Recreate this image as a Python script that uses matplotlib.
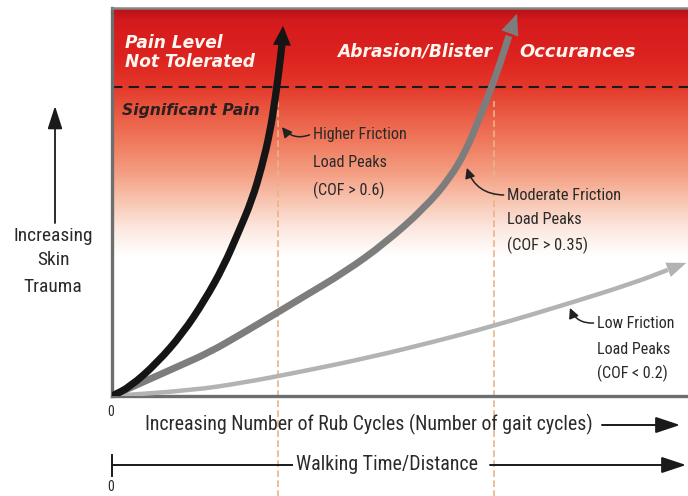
import matplotlib
matplotlib.use('Agg')
import matplotlib.pyplot as plt
import numpy as np
from matplotlib import font_manager
from matplotlib.colors import LinearSegmentedColormap
from matplotlib.path import Path
from matplotlib.patches import PathPatch, FancyArrowPatch
from matplotlib.lines import Line2D

# curves (x: rub cycles 0-100, y: skin trauma 0-100)
high_x = [0, 3.1, 7.8, 12.3, 16.1, 19.3, 21.9, 24.3, 26.0, 27.4, 28.3, 29.0, 29.5, 29.7]
high_y = [0, 2.3, 8.5, 16.2, 24.7, 33.2, 42.0, 50.5, 59.0, 67.8, 76.3, 84.0, 90.5, 95.4]
mod_x = [0, 5.4, 11.3, 17.0, 22.7, 28.6, 32.6, 40.5, 47.4, 54.3, 58.7, 61.5, 63.5, 65.6, 67.4, 68.9, 70.3]
mod_y = [0, 3.6, 7.5, 11.3, 16.2, 21.4, 25.0, 32.0, 39.4, 48.5, 56.2, 63.4, 70.6, 78.4, 85.8, 92.8, 98.5]
low_x = [0, 14.1, 22.7, 32.6, 44.3, 55.7, 66.1, 79.0, 90.5, 96.5, 99.7]
low_y = [0, 1.5, 3.4, 6.2, 9.8, 13.9, 18.0, 23.7, 29.1, 32.5, 34.3]

pain_threshold = 79.6
guide_x = [28.8, 66.3]

high_label = ['Higher Friction', 'Load Peaks', '(COF > 0.6)']
mod_label = ['Moderate Friction', 'Load Peaks', '(COF > 0.35)']
low_label = ['Low Friction', 'Load Peaks', '(COF < 0.2)']
y_label = ['Increasing', 'Skin', 'Trauma']
x_label = 'Increasing Number of Rub Cycles (Number of gait cycles)'
x2_label = 'Walking Time/Distance'

W, H = 688, 496


def fpx(x, y):
    # figure pixel (origin top-left) -> figure fraction
    return x / W, 1 - y / H


available = {f.name for f in font_manager.fontManager.ttflist}
cond = next((n for n in ('Liberation Sans Narrow', 'Roboto Condensed', 'Open Sans Condensed',
                         'DejaVu Sans Condensed') if n in available), 'DejaVu Sans')
COND = dict(family=cond, fontstretch='condensed', color='#2a2a2a')
BOLD = dict(family='DejaVu Sans', fontweight='bold', fontstyle='italic')

fig = plt.figure(figsize=(W / 100, H / 100), dpi=100)
ax = fig.add_axes([112 / W, 100 / H, 576 / W, 388 / H])
ax.set_xlim(0, 100)
ax.set_ylim(0, 100)
ax.set_xticks([])
ax.set_yticks([])
for side in ('left', 'bottom'):
    ax.spines[side].set_linewidth(2.4)
    ax.spines[side].set_color('#6e6e6e')
ax.spines['top'].set_linewidth(1.8)
ax.spines['top'].set_color('#858585')
ax.spines['right'].set_visible(False)

# red -> white background
stops = [(0.0, '#ffffff'), (0.36, '#ffffff'), (0.43, '#fce8e0'), (0.505, '#f8c4b0'),
         (0.58, '#f49c80'), (0.66, '#ef785c'), (0.74, '#e95640'), (0.80, '#e3382a'),
         (0.87, '#de2420'), (0.97, '#d41a1c'), (1.0, '#b8121a')]
cmap = LinearSegmentedColormap.from_list('trauma', stops)
grad = np.linspace(0, 1, 400).reshape(-1, 1)
ax.imshow(grad, cmap=cmap, extent=[0, 100, 0, 100], origin='lower', aspect='auto', zorder=0)

ax.axhline(pain_threshold, color='#1a1a1a', lw=1.5, ls=(0, (5, 3)), zorder=2)
for gx in guide_x:
    ax.plot([gx, gx], [-26, 76], color='#e9b488', lw=1.2, ls=(0, (4, 2)),
            clip_on=False, zorder=1)


def curve(xs, ys, color, lw, hl, hw):
    # smooth quadratic path through the read points, arrow head on the last one
    pts = np.column_stack([xs[:-1], ys[:-1]])
    mids = (pts[1:] + pts[:-1]) / 2
    verts, codes = [pts[0], mids[0]], [Path.MOVETO, Path.LINETO]
    for i in range(1, len(pts) - 1):
        verts += [pts[i], mids[i]]
        codes += [Path.CURVE3, Path.CURVE3]
    verts.append(pts[-1])
    codes.append(Path.LINETO)
    ax.add_patch(PathPatch(Path(verts, codes), fill=False, edgecolor=color, lw=lw,
                           capstyle='butt', joinstyle='round', zorder=4))
    ax.annotate('', xy=(xs[-1], ys[-1]), xytext=(xs[-2], ys[-2]), zorder=4,
                arrowprops=dict(arrowstyle=f'-|>,head_length={hl},head_width={hw}',
                                color=color, lw=0, shrinkA=0, shrinkB=0, mutation_scale=10))


curve(low_x, low_y, '#b3b3b3', 3.2, 1.4, 0.55)
curve(mod_x, mod_y, '#7d7d7d', 5, 1.5, 0.65)
curve(high_x, high_y, '#151515', 5.2, 1.4, 0.65)

renderer = fig.canvas.get_renderer()


def fit(texts, target):
    widest = max(t.get_window_extent(renderer).width for t in texts)
    for t in texts:
        t.set_fontsize(t.get_fontsize() * target / widest)


# zone labels
white = '#fff6f0'
fit([ax.text(2.3, 91.0, 'Pain Level', color=white, fontsize=12, va='center', **BOLD),
     ax.text(2.3, 86.1, 'Not Tolerated', color=white, fontsize=12, va='center', **BOLD)], 130)
fit([ax.text(39.1, 88.7, 'Abrasion/Blister', color=white, fontsize=12, va='center', **BOLD)], 155)
fit([ax.text(70.8, 88.7, 'Occurances', color=white, fontsize=12, va='center', **BOLD)], 116)
fit([ax.text(1.7, 73.7, 'Significant Pain', color='#2b1f1f', fontsize=12, va='center', **BOLD)], 138)


def callout(lines, x, ys, tip, target):
    ts = [ax.text(x, y, s, fontsize=14, va='center', **COND) for s, y in zip(lines, ys)]
    fit(ts, target)
    ax.annotate('', xy=tip, xytext=(x - 0.6, ys[0]),
                arrowprops=dict(arrowstyle='-|>,head_length=0.6,head_width=0.3', color='#222222',
                                lw=1.1, shrinkA=0, shrinkB=0, mutation_scale=10,
                                connectionstyle='arc3,rad=-0.35'))


callout(high_label, 34.9, [67.3, 60.3, 53.1], (29.5, 69.3), 94)
callout(mod_label, 68.6, [51.8, 45.4, 38.9], (61.6, 58.8), 115)
callout(low_label, 84.2, [18.8, 12.1, 5.9], (79.5, 22.7), 78)

# y axis label with arrow
yl = [fig.text(*fpx(53, y), s, fontsize=16, ha='center', va='center', **COND)
      for s, y in zip(y_label, [236, 260, 287])]
fit(yl, 80)
fig.add_artist(FancyArrowPatch(
    fpx(55, 223), fpx(55, 106), transform=fig.transFigure, arrowstyle='-|>,head_length=1.4,head_width=0.45',
    mutation_scale=10, color='#1a1a1a', lw=1.3, shrinkA=0, shrinkB=0))

# x axis labels
xl = fig.text(*fpx(145, 424), x_label, fontsize=16, ha='left', va='center', **COND)
fit([xl], 450)
x2 = fig.text(*fpx(296, 465), x2_label, fontsize=16, ha='left', va='center', **COND)
fit([x2], 182)
for y in (412, 487):
    fig.text(*fpx(111, y), '0', fontsize=10, ha='center', va='center', **COND)

arrow_kw = dict(transform=fig.transFigure, arrowstyle='-|>,head_length=1.5,head_width=0.5',
                mutation_scale=10, color='#1a1a1a', lw=1.4, shrinkA=0, shrinkB=0)
fig.add_artist(FancyArrowPatch(fpx(602, 425), fpx(680, 425), **arrow_kw))
fig.add_artist(FancyArrowPatch(fpx(490, 465), fpx(686, 465), **arrow_kw))
fig.add_artist(Line2D([112 / W, 292 / W], [1 - 465 / H] * 2, color='#1a1a1a', lw=1.4))
fig.add_artist(Line2D([112 / W] * 2, [1 - 455 / H, 1 - 476 / H], color='#1a1a1a', lw=1.4))

fig.savefig('out.png', dpi=100, facecolor='white')
